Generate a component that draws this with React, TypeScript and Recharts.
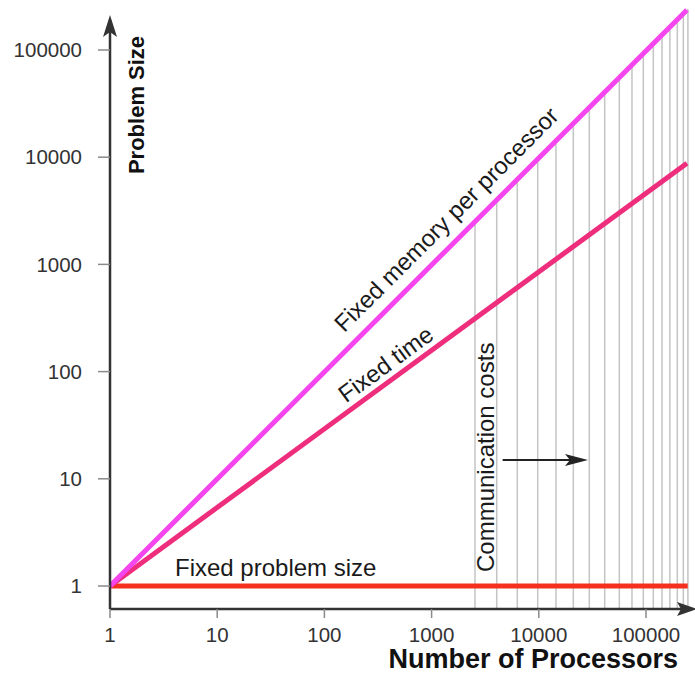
import React from 'react';
import { LineChart, Line, XAxis, YAxis, ReferenceLine, ReferenceDot, Label } from 'recharts';

const W = 695;
const H = 675;
const FONT = '"Liberation Sans", Arial, Helvetica, sans-serif';

// Axis ticks
const X_TICKS = [1, 10, 100, 1000, 10000, 100000];
const Y_TICKS = [1, 10, 100, 1000, 10000, 100000];
const X_DOMAIN = [1, 286500];
const Y_DOMAIN = [0.6101, 262900];

// Series (processors -> problem size)
const memoryX = [1, 241000];
const memoryY = [1, 236000];
const timeX = [1, 241000];
const timeY = [1, 8770];
const fixedX = [1, 245000];
const fixedY = [1, 1];

// Communication-cost hatch lines (processor counts)
const commX = [2540, 4050, 6300, 9770, 14460, 21000, 29600, 41200, 56400, 74000, 94400, 117000, 141000, 167000, 196000, 223000, 246000];

const toPts = (xs: number[], ys: number[]) => xs.map((x, i) => ({ x, y: ys[i] }));
const memoryPts = toPts(memoryX, memoryY);
const timePts = toPts(timeX, timeY);
const fixedPts = toPts(fixedX, fixedY);

// height of the fixed-memory line at a given x (log-log straight line)
const memoryAt = (x: number) => {
  const lx0 = Math.log10(memoryX[0]), lx1 = Math.log10(memoryX[1]);
  const ly0 = Math.log10(memoryY[0]), ly1 = Math.log10(memoryY[1]);
  const t = (Math.log10(x) - lx0) / (lx1 - lx0);
  return Math.pow(10, ly0 + t * (ly1 - ly0));
};

const AXIS = '#333333';

const textShape = (text: string, angle: number, anchor: string, size: number, dy = 0) => (p: any) => (
  <text
    x={p.cx}
    y={p.cy}
    dy={dy}
    textAnchor={anchor}
    fontFamily={FONT}
    fontSize={size}
    fill="#1a1a1a"
    transform={`rotate(${angle} ${p.cx} ${p.cy})`}
  >
    {text}
  </text>
);

export default function App() {
  return (
    <div style={{ position: 'absolute', left: 0, top: 0, width: W, height: H, background: '#fff' }}>
      <LineChart width={W} height={H} margin={{ top: 5, right: 0, bottom: 0, left: 0 }}>
        <XAxis
          type="number"
          dataKey="x"
          scale="log"
          domain={X_DOMAIN}
          allowDataOverflow
          ticks={X_TICKS}
          interval={0}
          axisLine={false}
          tickSize={9}
          tickMargin={9}
          tickLine={{ stroke: '#8a8a8a', strokeWidth: 1.5 }}
          tick={{ fill: AXIS, fontSize: 20.5, fontFamily: FONT }}
          height={66}
        >
          <Label
            content={(p: any) => (
              <text
                x={p.viewBox.x + p.viewBox.width - 17}
                y={p.viewBox.y + 59}
                textAnchor="end"
                fontFamily={FONT}
                fontWeight="bold"
                fontSize={27}
                fill="#111"
              >
                Number of Processors
              </text>
            )}
          />
        </XAxis>
        <YAxis
          type="number"
          dataKey="y"
          scale="log"
          domain={Y_DOMAIN}
          allowDataOverflow
          ticks={Y_TICKS}
          interval={0}
          axisLine={false}
          tickSize={12}
          tickMargin={16}
          tickLine={{ stroke: '#8a8a8a', strokeWidth: 1.5 }}
          tick={{ fill: AXIS, fontSize: 20.5, fontFamily: FONT }}
          width={110}
        >
          <Label
            content={(p: any) => {
              const x = p.viewBox.x + p.viewBox.width + 34;
              const y = 105;
              return (
                <text
                  x={x}
                  y={y}
                  textAnchor="middle"
                  fontFamily={FONT}
                  fontWeight="bold"
                  fontSize={22}
                  fill="#111"
                  transform={`rotate(-90 ${x} ${y})`}
                >
                  Problem Size
                </text>
              );
            }}
          />
        </YAxis>

        {commX.map((v) => (
          <ReferenceLine
            key={v}
            segment={[{ x: v, y: Y_DOMAIN[0] }, { x: v, y: memoryAt(v) }]}
            stroke="#c4c4c4"
            strokeWidth={1.5}
            ifOverflow="visible"
          />
        ))}

        <Line data={fixedPts} dataKey="y" stroke="#f5301e" strokeWidth={5} dot={false} isAnimationActive={false} />
        <Line data={timePts} dataKey="y" stroke="#ee2d7d" strokeWidth={5} dot={false} isAnimationActive={false} />
        <Line data={memoryPts} dataKey="y" stroke="#f545ee" strokeWidth={5} dot={false} isAnimationActive={false} />

        {/* axes with arrow heads */}
        <ReferenceLine segment={[{ x: 1, y: Y_DOMAIN[0] }, { x: 1, y: 190000 }]} stroke={AXIS} strokeWidth={2.5} ifOverflow="visible" />
        <ReferenceLine segment={[{ x: 1, y: Y_DOMAIN[0] }, { x: 270000, y: Y_DOMAIN[0] }]} stroke={AXIS} strokeWidth={2.5} ifOverflow="visible" />
        <ReferenceDot
          x={1}
          y={212000}
          ifOverflow="visible"
          shape={(p: any) => (
            <polygon points={`${p.cx},${p.cy} ${p.cx - 7},${p.cy + 22} ${p.cx},${p.cy + 17} ${p.cx + 7},${p.cy + 22}`} fill={AXIS} />
          )}
        />
        <ReferenceDot
          x={X_DOMAIN[1]}
          y={Y_DOMAIN[0]}
          ifOverflow="visible"
          shape={(p: any) => (
            <polygon points={`${p.cx + 2},${p.cy} ${p.cx - 18},${p.cy - 7} ${p.cx - 14},${p.cy} ${p.cx - 18},${p.cy + 7}`} fill={AXIS} />
          )}
        />

        {/* communication arrow */}
        <ReferenceLine segment={[{ x: 4600, y: 15 }, { x: 22000, y: 15 }]} stroke="#222" strokeWidth={2} ifOverflow="visible" />
        <ReferenceDot
          x={28770}
          y={15}
          ifOverflow="visible"
          shape={(p: any) => (
            <polygon points={`${p.cx},${p.cy} ${p.cx - 23},${p.cy - 6} ${p.cx - 18},${p.cy} ${p.cx - 23},${p.cy + 6}`} fill="#222" />
          )}
        />

        {/* annotations */}
        <ReferenceDot x={1422} y={2541} ifOverflow="visible" shape={textShape('Fixed memory per processor', -45, 'middle', 24, 6)} />
        <ReferenceDot x={383.8} y={112.8} ifOverflow="visible" shape={textShape('Fixed time', -36.2, 'middle', 24, 6)} />
        <ReferenceDot x={4.04} y={1.24} ifOverflow="visible" shape={textShape('Fixed problem size', 0, 'start', 24)} />
        <ReferenceDot x={3820} y={1.35} ifOverflow="visible" shape={textShape('Communication costs', -90, 'start', 24)} />
      </LineChart>
    </div>
  );
}
